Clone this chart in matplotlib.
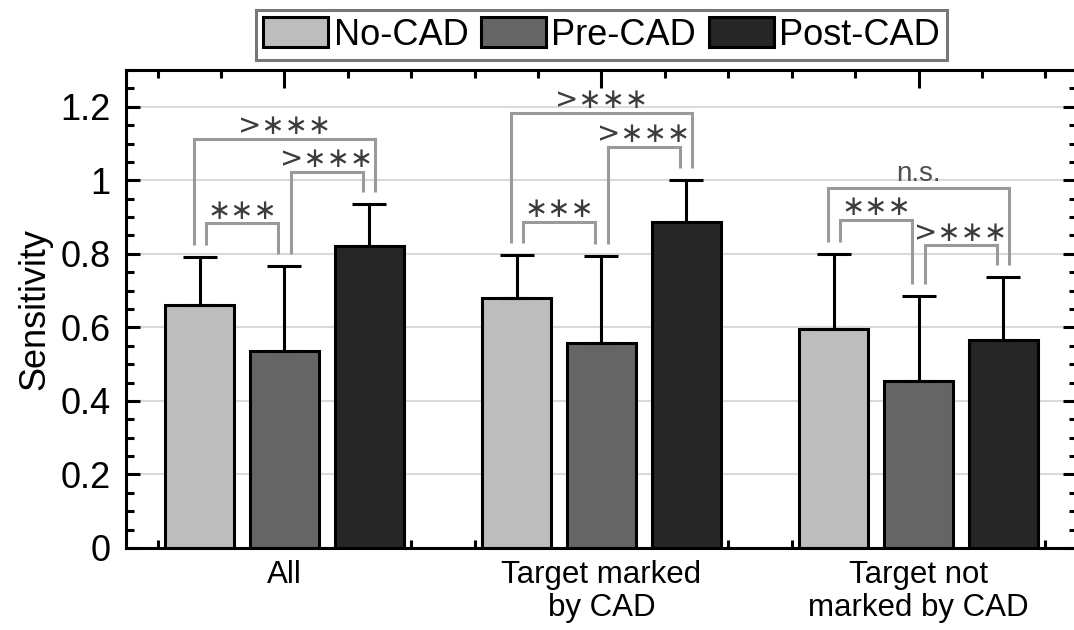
import numpy as np
import matplotlib.pyplot as plt
from matplotlib.ticker import MultipleLocator, FixedLocator

plt.rcParams['font.family'] = ['Liberation Sans', 'DejaVu Sans']

groups = ["All", "Target marked\nby CAD", "Target not\nmarked by CAD"]
conditions = ["No-CAD", "Pre-CAD", "Post-CAD"]
colors = ["#bdbdbd", "#656565", "#262626"]

no_cad = [0.661, 0.680, 0.596]
pre_cad = [0.536, 0.558, 0.454]
post_cad = [0.822, 0.887, 0.566]

no_cad_sd = [0.131, 0.117, 0.204]
pre_cad_sd = [0.231, 0.237, 0.232]
post_cad_sd = [0.114, 0.114, 0.171]

# (group, left bar, right bar, bracket height, label)
comparisons = [
    (0, 0, 1, 0.884, "\u2217\u2217\u2217"),
    (0, 1, 2, 1.023, ">\u2217\u2217\u2217"),
    (0, 0, 2, 1.113, ">\u2217\u2217\u2217"),
    (1, 0, 1, 0.887, "\u2217\u2217\u2217"),
    (1, 1, 2, 1.091, ">\u2217\u2217\u2217"),
    (1, 0, 2, 1.184, ">\u2217\u2217\u2217"),
    (2, 0, 1, 0.893, "\u2217\u2217\u2217"),
    (2, 1, 2, 0.824, ">\u2217\u2217\u2217"),
    (2, 0, 2, 0.980, "n.s."),
]

means = np.array([no_cad, pre_cad, post_cad])
sds = np.array([no_cad_sd, pre_cad_sd, post_cad_sd])

x = np.arange(1, len(groups) + 1)
offset = 0.268
width = 0.215

fig = plt.figure(figsize=(10.74, 6.30), dpi=100)
ax = fig.add_axes([0.1173, 0.1302, 0.8855, 0.7587])

for i, (name, c) in enumerate(zip(conditions, colors)):
    xs = x + (i - 1) * offset
    ax.bar(xs, means[i], width, color=c, edgecolor='black', linewidth=2.2,
           label=name, zorder=2)
    ax.errorbar(xs, means[i], yerr=[np.zeros(len(x)), sds[i]], fmt='none',
                ecolor='black', elinewidth=2.2, capsize=12, capthick=2.2,
                zorder=3)

# significance brackets
leg_dx = 0.019
gap = 0.033
for g, a, b, h, label in comparisons:
    adjacent = (b - a) == 1
    xa = x[g] + (a - 1) * offset + (leg_dx if adjacent else -leg_dx)
    xb = x[g] + (b - 1) * offset + (-leg_dx if adjacent else leg_dx)
    ya = means[a, g] + sds[a, g] + gap
    yb = means[b, g] + sds[b, g] + gap
    ax.plot([xa, xa, xb, xb], [ya, h, h, yb], color='#9a9a9a', lw=2.2,
            solid_joinstyle='miter', solid_capstyle='butt', zorder=4)
    if label == "n.s.":
        ax.text((xa + xb) / 2, h + 0.017, label, ha='center', va='baseline',
                fontsize=20, color='#505050', zorder=5)
    else:
        ax.text((xa + xb) / 2, h + 0.012, label, ha='center', va='baseline',
                fontsize=20, color='#3c3c3c', family='DejaVu Sans',
                zorder=5)

ax.set_xlim(0.5, 3.5)
ax.set_ylim(0, 1.3)
ax.set_xticks(x)
ax.set_xticklabels(groups, fontsize=22.5, linespacing=1.1)
yt = [0, 0.2, 0.4, 0.6, 0.8, 1.0, 1.2]
ax.set_yticks(yt)
ax.set_yticklabels(['0', '0.2', '0.4', '0.6', '0.8', '1', '1.2'], fontsize=26)
ax.set_ylabel('Sensitivity', fontsize=26, labelpad=6)

minor_x = [v for v in np.round(np.arange(0.6, 3.41, 0.2), 2) if v % 1 != 0]
ax.xaxis.set_minor_locator(FixedLocator(minor_x))
ax.yaxis.set_minor_locator(MultipleLocator(0.05))

ax.set_axisbelow(True)
ax.grid(axis='y', which='major', color='#dadada', lw=1.5)
ax.tick_params(which='both', direction='in', top=True, right=True,
               width=2.2, color='black')
ax.tick_params(axis='x', which='major', length=13, pad=9)
ax.tick_params(axis='y', which='major', length=10, pad=11)
ax.tick_params(which='minor', length=5.5)
for s in ax.spines.values():
    s.set_linewidth(2.2)

leg = ax.legend(loc='lower center', bbox_to_anchor=(0.5, 1.021), ncol=3,
                fontsize=26, frameon=True, fancybox=False, handlelength=1.8,
                handleheight=0.9, handletextpad=0.15, columnspacing=0.35,
                borderpad=0.2, borderaxespad=0)
leg.get_frame().set_edgecolor('#555555')
leg.get_frame().set_linewidth(2.2)

fig.savefig('out.png', dpi=100)
